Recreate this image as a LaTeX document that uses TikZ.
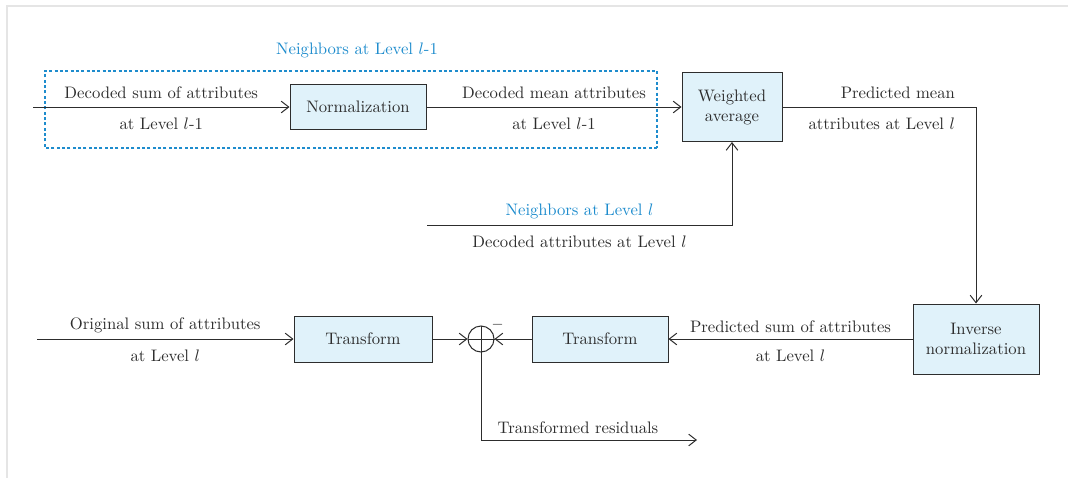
\documentclass[tikz,border=0pt]{standalone}
\usetikzlibrary{positioning,arrows.meta}
\definecolor{boxfill}{RGB}{224,242,250}
\definecolor{linegray}{RGB}{45,45,45}
\definecolor{nbblue}{RGB}{30,140,205}

\begin{document}
\begin{tikzpicture}[x=1pt, y=1pt, line width=0.6pt, color=linegray]
    \tikzstyle{box} = [rectangle, draw, fill=boxfill, align=center, inner sep=0pt]
    \tikzstyle{arrow} = [-{Straight Barb[length=4.5pt,width=7pt]}]
    \tikzstyle{note} = [text=nbblue]

    \useasboundingbox (0,0) rectangle (640.8,-286.8);
    \draw [gray!20, line width=1pt] (4.2,-286.8) -- (4.2,-3.6) -- (640.8,-3.6);

    % upper row
    \node [box, minimum width=81.6pt, minimum height=27pt] (norm) at (214.8,-64.2) {Normalization};
    \node [box, minimum width=60pt, minimum height=41.4pt, right=153pt of norm] (wavg) {Weighted\\average};

    % lower row
    \node [box, minimum width=82.8pt, minimum height=27.6pt] (tf1) at (217.8,-203.4) {Transform};
    \node [circle, draw, minimum size=15.6pt, inner sep=0pt, right=21pt of tf1] (sum) {};
    \node [box, minimum width=81.6pt, minimum height=27.6pt, right=22.2pt of sum] (tf2) {Transform};
    \node [box, minimum width=75.6pt, minimum height=42pt, right=146.4pt of tf2] (inorm) {Inverse\\normalization};

    \coordinate (in1) at (19.8,-64.2);
    \coordinate (in2) at (22.2,-203.4);
    \coordinate (nbl) at (256.2,-135);
    \coordinate (res) at (418.2,-264);

    % neighbors at level l-1
    \draw [nbblue, line width=0.65pt, dash pattern=on 1.8pt off 1.4pt] (394.2,-88.8) -- (27,-88.8) -- (27,-42.6) -- (394.2,-42.6) -- cycle;
    \node [note] (nbtitle) at (214.2,-30) {Neighbors at Level $l$-1};

    \draw [arrow] (in1) -- node[above=1.5pt] {Decoded sum of attributes} node[below=3pt] {at Level $l$-1} (norm);
    \draw [arrow] (norm) -- node[above=1.5pt] {Decoded mean attributes} node[below=3pt] {at Level $l$-1} (wavg);
    \draw [arrow] (wavg) -| node[pos=0.5, anchor=south east, xshift=-9pt, yshift=1.5pt] {Predicted mean}
        node[pos=0.5, anchor=north east, xshift=-9pt, yshift=-3pt] {attributes at Level $l$} (inorm);
    \draw [arrow] (nbl) -| node[pos=0.25, above=0pt, note] {Neighbors at Level $l$}
        node[pos=0.25, below=3pt] {Decoded attributes at Level $l$} (wavg);

    \draw [arrow] (in2) -- node[above=0pt] {Original sum of attributes} node[below=3pt] {at Level $l$} (tf1);
    \draw [arrow] (tf1) -- (sum);
    \draw [arrow] (inorm) -- node[above=0pt] {Predicted sum of attributes} node[below=3pt] {at Level $l$} (tf2);
    \draw [arrow] (tf2) -- (sum);
    \draw (sum.north) -- (sum.south) (sum.west) -- (sum.east);
    \node (minus) at ([xshift=10pt, yshift=8.4pt]sum.center) {\small$-$};
    \draw [arrow] (sum) |- node[pos=0.75, above=0pt, xshift=-6.6pt] {Transformed residuals} (res);
\end{tikzpicture}
\end{document}
